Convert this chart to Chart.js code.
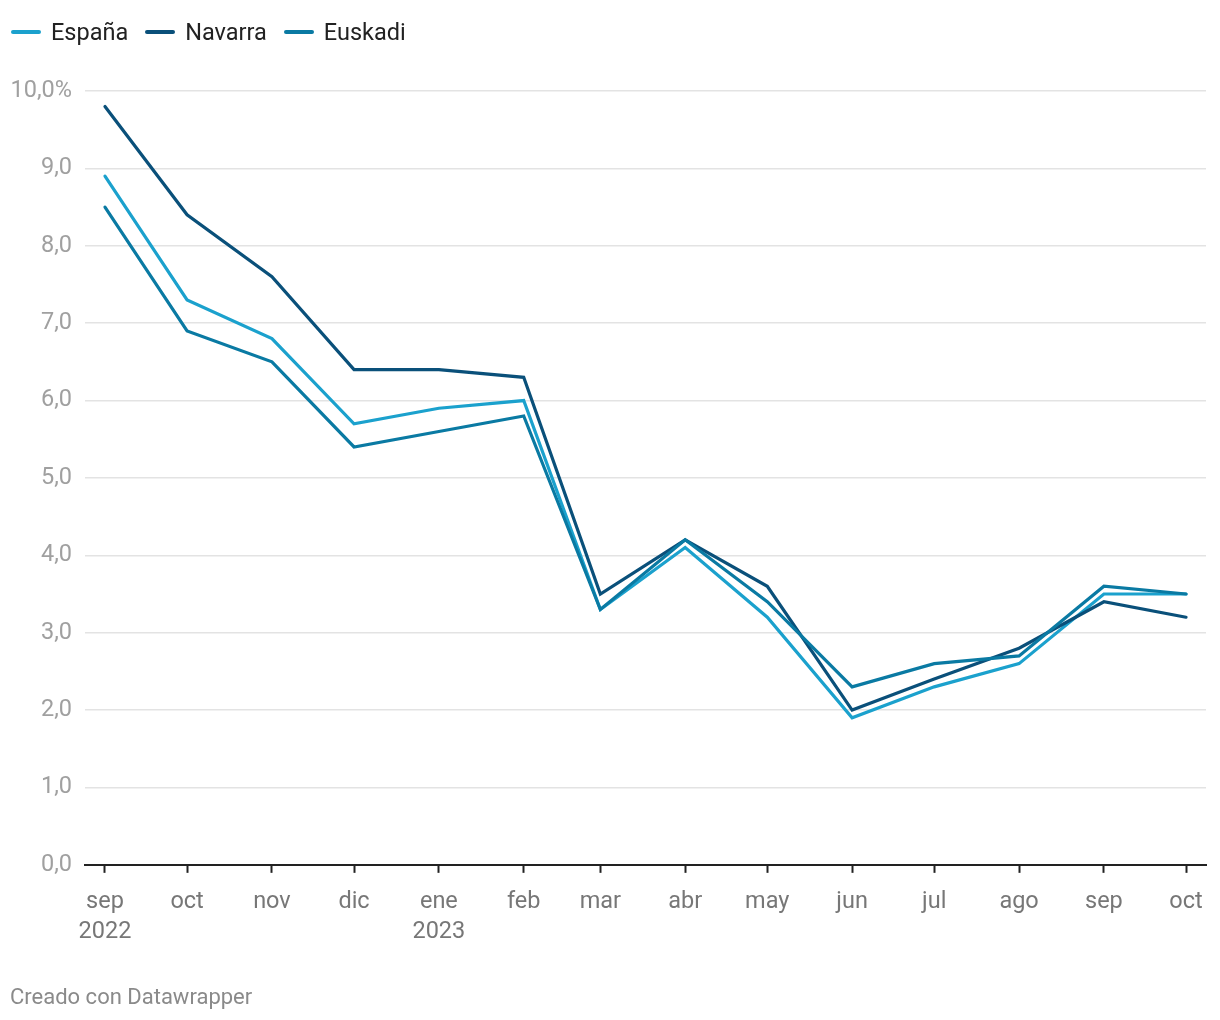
<!DOCTYPE html>
<html lang="es">
<head>
<meta charset="utf-8">
<script src="https://cdn.jsdelivr.net/npm/chart.js@4"></script>
<style>
  body { margin: 0; background: #fff; font-family: Roboto, "Noto Sans", sans-serif; }
  #wrap { position: relative; width: 1220px; height: 1020px; }
  #legend { position: absolute; left: 11px; top: 18px; display: flex; font-size: 23.5px; color: #222; }
  .item { display: flex; align-items: center; margin-right: 17px; }
  .swatch { width: 30px; height: 4px; border-radius: 2px; margin-right: 10px; }
  #footer { position: absolute; left: 10px; top: 984px; font-size: 22px; color: #8a8a8a; }
  #chart { position: absolute; left: 0; top: 0; }
</style>
</head>
<body>
<div id="wrap">
  <canvas id="chart" width="1220" height="1020"></canvas>
  <div id="legend"></div>
  <div id="footer">Creado con Datawrapper</div>
</div>
<script>
// months shown (first day of each month)
const months = ["2022-09", "2022-10", "2022-11", "2022-12", "2023-01", "2023-02", "2023-03",
                "2023-04", "2023-05", "2023-06", "2023-07", "2023-08", "2023-09", "2023-10"];
const monthLabels = ["sep", "oct", "nov", "dic", "ene", "feb", "mar", "abr", "may", "jun", "jul", "ago", "sep", "oct"];
const yearLabels = { 0: "2022", 4: "2023" };

const espana  = [8.9, 7.3, 6.8, 5.7, 5.9, 6.0, 3.3, 4.1, 3.2, 1.9, 2.3, 2.6, 3.5, 3.5];
const navarra = [9.8, 8.4, 7.6, 6.4, 6.4, 6.3, 3.5, 4.2, 3.6, 2.0, 2.4, 2.8, 3.4, 3.2];
const euskadi = [8.5, 6.9, 6.5, 5.4, 5.6, 5.8, 3.3, 4.2, 3.4, 2.3, 2.6, 2.7, 3.6, 3.5];

const series = [
  { label: "España",  data: espana,  color: "#1ba1cd", order: 3 },
  { label: "Navarra", data: navarra, color: "#0a507a", order: 2 },
  { label: "Euskadi", data: euskadi, color: "#0a7aa3", order: 1 }
];

// days since first month, so spacing follows month length
const start = Date.UTC(2022, 8, 1);
const dayOffsets = months.map(m => {
  const [y, mo] = m.split("-").map(Number);
  return (Date.UTC(y, mo - 1, 1) - start) / 86400000;
});
const lastDay = dayOffsets[dayOffsets.length - 1];

const legend = document.getElementById("legend");
series.forEach(s => {
  const el = document.createElement("div");
  el.className = "item";
  el.innerHTML = `<span class="swatch" style="background:${s.color}"></span><span>${s.label}</span>`;
  legend.appendChild(el);
});

new Chart(document.getElementById("chart"), {
  type: "line",
  data: {
    datasets: series.map(s => ({
      label: s.label,
      data: s.data.map((v, i) => ({ x: dayOffsets[i], y: v })),
      borderColor: s.color,
      backgroundColor: s.color,
      borderWidth: 3.2,
      pointRadius: 0,
      tension: 0,
      order: s.order,
      borderCapStyle: "round"
    }))
  },
  options: {
    responsive: false,
    animation: false,
    layout: { padding: { top: 91, left: 10, right: 14, bottom: 59 } },
    plugins: { legend: { display: false }, tooltip: { enabled: false } },
    scales: {
      x: {
        type: "linear",
        min: -7.3,
        max: lastDay + 7.3,
        afterBuildTicks: scale => { scale.ticks = dayOffsets.map(v => ({ value: v })); },
        afterFit: scale => { scale.paddingLeft = 0; scale.paddingRight = 0; },
        grid: { drawOnChartArea: false, drawTicks: true, tickLength: 8, tickColor: "#222", tickWidth: 2 },
        border: { display: true, color: "#222", width: 2 },
        ticks: {
          autoSkip: false,
          maxRotation: 0,
          padding: 14,
          color: "#777",
          font: { family: "Roboto", size: 23.5, lineHeight: 1.28 },
          callback: (value, index) => yearLabels[index] ? [monthLabels[index], yearLabels[index]] : monthLabels[index]
        }
      },
      y: {
        min: 0,
        max: 10,
        afterFit: scale => { scale.width = 75; },
        grid: { color: "#e3e3e3", lineWidth: 1.5, drawTicks: false },
        border: { display: false },
        ticks: {
          stepSize: 1,
          padding: 13,
          color: "#a0a0a0",
          font: { family: "Roboto", size: 23.5 },
          callback: v => v === 10 ? "10,0%" : v.toFixed(1).replace(".", ",")
        }
      }
    }
  }
});
</script>
</body>
</html>
